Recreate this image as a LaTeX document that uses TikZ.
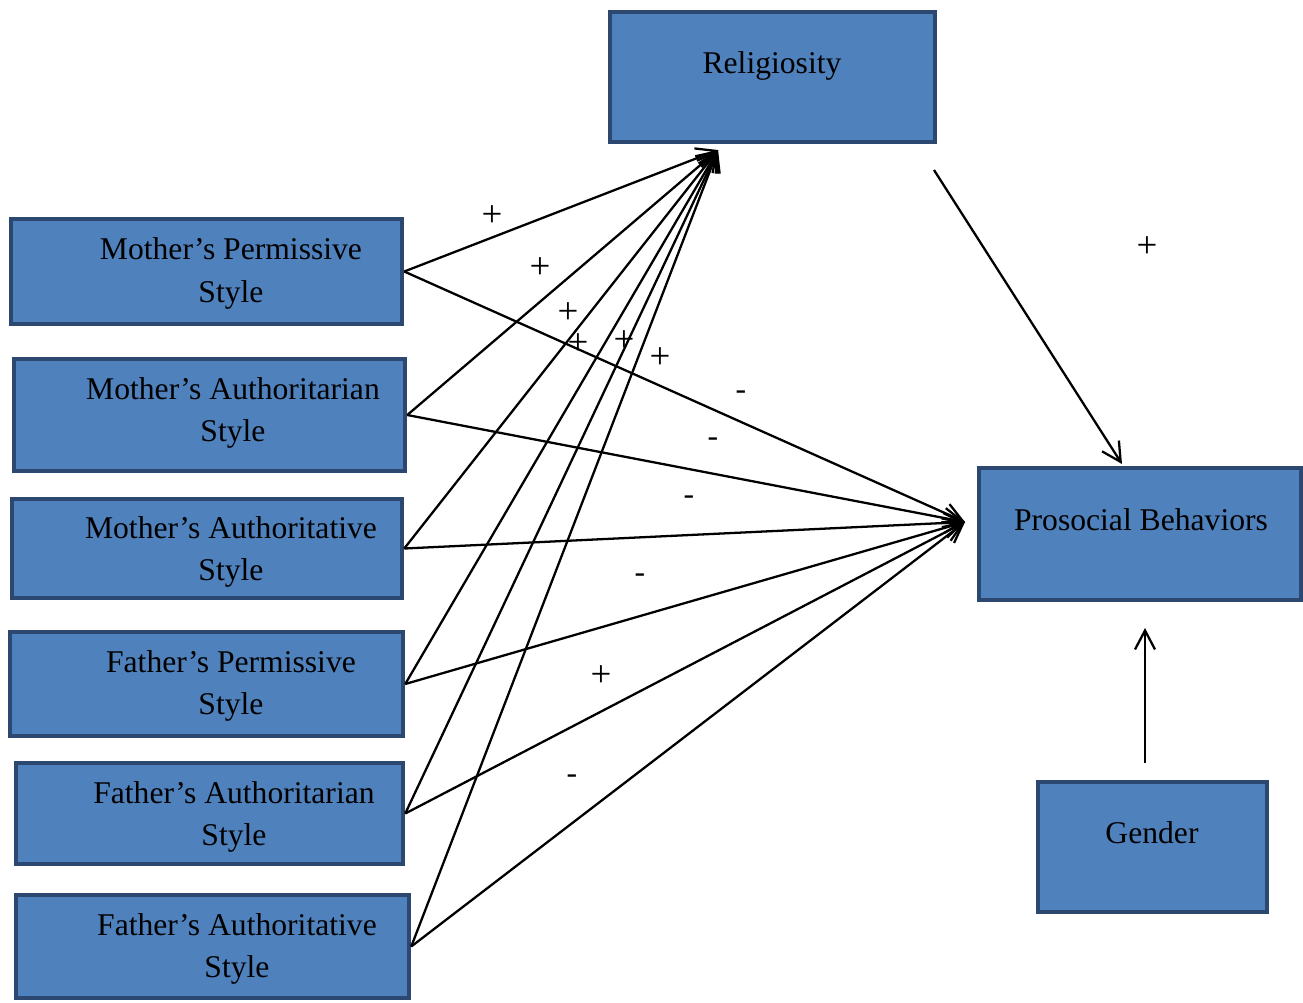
\documentclass[tikz,border=0pt]{standalone}
\usepackage{fontspec}
\setmainfont{Liberation Serif}
\usetikzlibrary{arrows.meta}
\definecolor{boxfill}{HTML}{4F81BD}
\definecolor{boxline}{HTML}{2C4770}
\tikzset{
  box/.style={draw=boxline, fill=boxfill, line width=2.6pt, rectangle, inner sep=0pt},
  lbl/.style={align=center, font=\fontsize{18}{24}\selectfont, inner sep=0pt},
  sign/.style={font=\fontsize{21}{24}\selectfont, inner sep=0pt, text height=1.1ex, text depth=0pt},
  minus/.style={font=\fontsize{18}{20}\selectfont, inner sep=0pt},
  conn/.style={line width=1.3pt, -{Straight Barb[length=3.8mm,width=4mm,line width=1.3pt]}}
}
\begin{document}
\begin{tikzpicture}[x=0.02cm, y=-0.02cm]
		\useasboundingbox (0,0) rectangle (1303,1002);
		\node[box, minimum width=6.5cm, minimum height=2.6cm] (rel) at (772.5,77) {};
		\node[lbl, anchor=base] (rel-t) at (772,73) {Religiosity};
		\node[box, minimum width=6.44cm, minimum height=2.64cm] (pro) at (1140,534) {};
		\node[lbl, anchor=base] (pro-t) at (1141,530) {Prosocial Behaviors};
		\node[box, minimum width=4.58cm, minimum height=2.6cm] (gen) at (1152.5,847) {};
		\node[lbl, anchor=base] (gen-t) at (1152,843) {Gender};
		
		\node[box, minimum width=7.82cm, minimum height=2.1cm] (mp) at (206.5,271.5) {};
		\node[lbl] (mp-t) at (231,273.5) {Mother’s Permissive\\Style};
		\node[box, minimum width=7.82cm, minimum height=2.24cm] (ma) at (209.5,415) {};
		\node[lbl] (ma-t) at (233,413) {Mother’s Authoritarian\\Style};
		\node[box, minimum width=7.8cm, minimum height=1.98cm] (mat) at (207,548.5) {};
		\node[lbl] (mat-t) at (231,552) {Mother’s Authoritative\\Style};
		\node[box, minimum width=7.86cm, minimum height=2.08cm] (fp) at (206.5,684) {};
		\node[lbl] (fp-t) at (231,686) {Father’s Permissive\\Style};
		\node[box, minimum width=7.74cm, minimum height=2.02cm] (fa) at (209.5,813.5) {};
		\node[lbl] (fa-t) at (234,817) {Father’s Authoritarian\\Style};
		\node[box, minimum width=7.86cm, minimum height=2.06cm] (fat) at (212.5,946.5) {};
		\node[lbl] (fat-t) at (237,949) {Father’s Authoritative\\Style};
		
		\coordinate (relin) at (718,150);
		\coordinate (proin) at (965,522);
		\coordinate (relout) at (934,170);
		\coordinate (protop) at (1122,464);
		\coordinate (genout) at (1145,763);
		\coordinate (probot) at (1145,628);
		
		\foreach \s in {mp,ma,mat,fp,fa,fat} {
			\draw[conn] (\s.east) -- (relin);
			\draw[conn] (\s.east) -- (proin);
		}
		\draw[conn] (relout) -- (protop);
		\draw[conn] (genout) -- (probot);
		
		\node[sign] (s1) at (492,222) {+};
		\node[sign] (s2) at (540,274) {+};
		\node[sign] (s3) at (568,319) {+};
		\node[sign] (s4) at (578,350) {+};
		\node[sign] (s5) at (624,347) {+};
		\node[sign] (s6) at (660,364) {+};
		\node[sign] (s7) at (1147,253) {+};
		\node[sign] (s8) at (601,682) {+};
		\node[minus] (m1) at (741,395) {-};
		\node[minus] (m2) at (713,442) {-};
		\node[minus] (m3) at (689,500) {-};
		\node[minus] (m4) at (640,578) {-};
		\node[minus] (m5) at (572,779) {-};
\end{tikzpicture}
\end{document}
